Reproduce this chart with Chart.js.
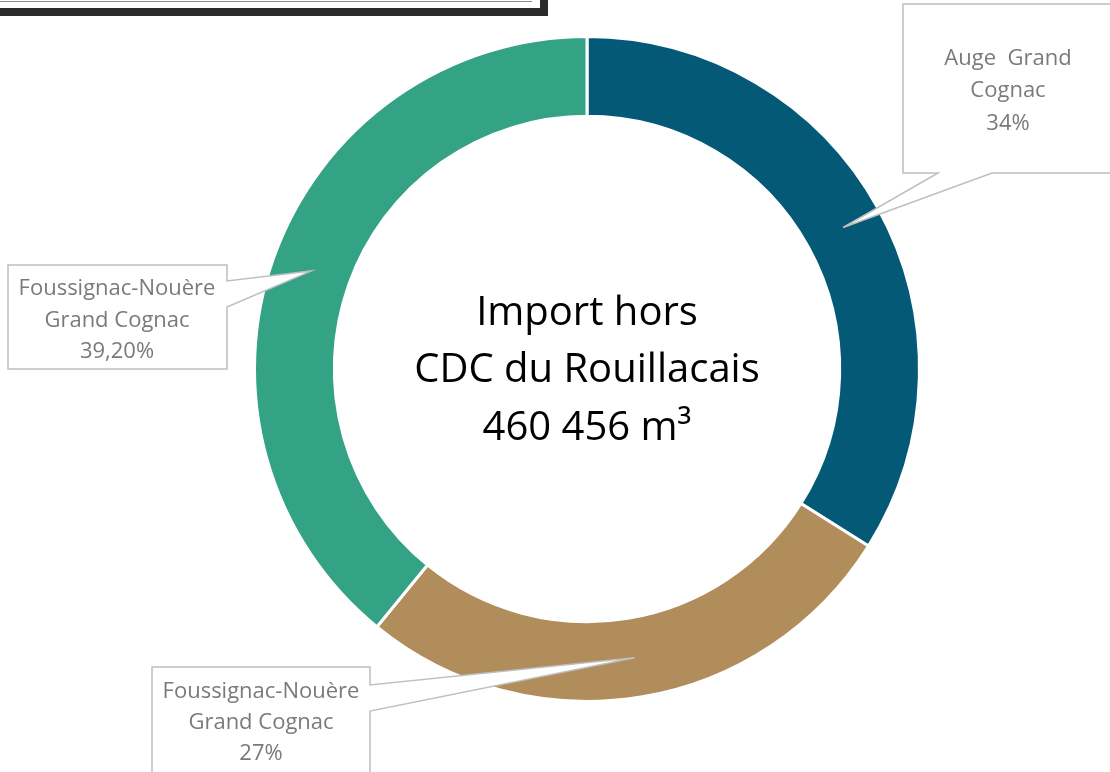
<!DOCTYPE html>
<html>
<head>
<meta charset="utf-8">
<script src="https://cdn.jsdelivr.net/npm/chart.js@4/dist/chart.umd.min.js"></script>
<style>
  html, body { margin: 0; padding: 0; background: #ffffff; overflow: hidden; }
  #wrap { position: relative; width: 1110px; height: 772px; }
  #frameDark { position: absolute; left: -20px; top: -40px; width: 568px; height: 56px; background: #2b2b2b; }
  #frameWhite { position: absolute; left: -20px; top: -40px; width: 560px; height: 48px; background: #ffffff; }
  #frameLine { position: absolute; left: -20px; top: 1px; width: 552px; height: 1px; background: #8a8a8a; }
  canvas { position: absolute; left: 0; top: 0; }
</style>
</head>
<body>
<div id="wrap">
  <canvas id="c" width="1110" height="772"></canvas>
  <div id="frameDark"></div>
  <div id="frameWhite"></div>
  <div id="frameLine"></div>
</div>
<script>
// ---- data ----
const categories = ["Auge  Grand Cognac", "Foussignac-Nouère Grand Cognac", "Foussignac-Nouère Grand Cognac"];
const shares = [34, 27, 39.2];
const shareLabels = ["34%", "27%", "39,20%"];
const calloutLines = [
  ["Auge  Grand", "Cognac", "34%"],
  ["Foussignac-Nouère", "Grand Cognac", "27%"],
  ["Foussignac-Nouère", "Grand Cognac", "39,20%"]
];
const centerLines = ["Import hors", "CDC du Rouillacais", "460 456 m³"];
const sliceColors = ["#045977", "#b28d5c", "#34a285"];

// callout box layout (box rect + two base points of the pointer)
const callouts = [
  { x1: 903, y1: 4, x2: 1115, y2: 173, side: "bottom", b1: 938, b2: 992, tx: 1008, ty: [59, 91, 124] },
  { x1: 152, y1: 667, x2: 370, y2: 780, side: "right", b1: 685, b2: 711, tx: 261, ty: [692, 723, 754] },
  { x1: 8, y1: 265, x2: 227, y2: 369, side: "right", b1: 281, b2: 307, tx: 117, ty: [289, 321, 352] }
];

const calloutPlugin = {
  id: "callouts",
  afterDraw(chart) {
    const ctx = chart.ctx;
    const meta = chart.getDatasetMeta(0);
    // center text
    ctx.save();
    ctx.fillStyle = "#000000";
    ctx.font = "40px 'Open Sans'";
    ctx.textAlign = "center";
    ctx.textBaseline = "middle";
    const cx = meta.data[0].x, cy = meta.data[0].y;
    ctx.fillText(centerLines[0], cx, cy - 55);
    ctx.fillText(centerLines[1], cx, cy + 2);
    ctx.fillText(centerLines[2], cx, cy + 60);
    ctx.restore();

    meta.data.forEach((arc, i) => {
      const c = callouts[i];
      const tip = arc.getCenterPoint();
      ctx.save();
      ctx.beginPath();
      if (c.side === "bottom") {
        ctx.moveTo(c.x1, c.y1);
        ctx.lineTo(c.x2, c.y1);
        ctx.lineTo(c.x2, c.y2);
        ctx.lineTo(c.b2, c.y2);
        ctx.lineTo(tip.x, tip.y);
        ctx.lineTo(c.b1, c.y2);
        ctx.lineTo(c.x1, c.y2);
        ctx.closePath();
      } else {
        ctx.moveTo(c.x1, c.y1);
        ctx.lineTo(c.x2, c.y1);
        ctx.lineTo(c.x2, c.b1);
        ctx.lineTo(tip.x, tip.y);
        ctx.lineTo(c.x2, c.b2);
        ctx.lineTo(c.x2, c.y2);
        ctx.lineTo(c.x1, c.y2);
        ctx.closePath();
      }
      ctx.fillStyle = "#ffffff";
      ctx.fill();
      ctx.lineWidth = 1.5;
      ctx.strokeStyle = "#bfbfbf";
      ctx.stroke();
      ctx.fillStyle = "#7a7a7a";
      ctx.font = "22px 'Open Sans'";
      ctx.textAlign = "center";
      ctx.textBaseline = "middle";
      calloutLines[i].forEach((t, k) => ctx.fillText(t, c.tx, c.ty[k]));
      ctx.restore();
    });
  }
};

new Chart(document.getElementById("c"), {
  type: "doughnut",
  data: {
    labels: categories,
    datasets: [{
      data: shares,
      backgroundColor: sliceColors,
      borderColor: "#ffffff",
      borderWidth: 3,
      hoverOffset: 0
    }]
  },
  options: {
    responsive: false,
    animation: false,
    cutout: "76%",
    layout: { padding: { left: 253, right: 189, top: 35, bottom: 69 } },
    plugins: { legend: { display: false }, tooltip: { enabled: false } }
  },
  plugins: [calloutPlugin]
});
</script>
</body>
</html>
